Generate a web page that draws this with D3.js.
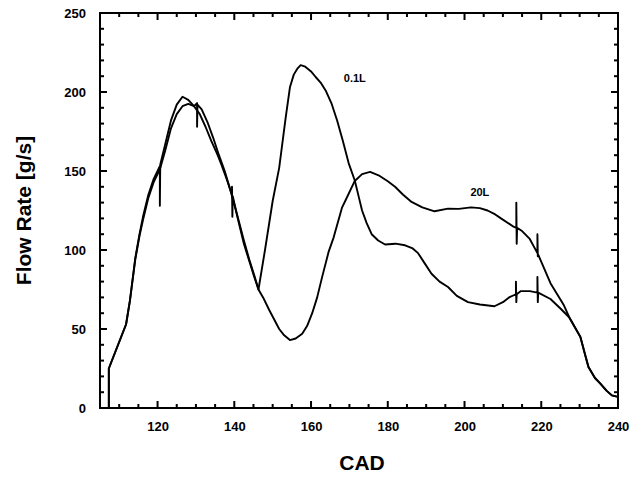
<!DOCTYPE html>
<html>
<head>
<meta charset="utf-8">
<script src="https://cdn.jsdelivr.net/npm/d3@7"></script>
<style>
  html, body { margin: 0; padding: 0; background: #fff; }
  svg { display: block; }
  text { font-family: "Liberation Sans", Arial, Helvetica, sans-serif; font-weight: bold; fill: #000; }
</style>
</head>
<body>
<svg id="chart" width="632" height="478"></svg>
<script>
// Flow rate vs crank angle for two volumes: [CAD, g/s]
const flow01L = [
  [107.3,0],[107.3,25],[111.8,53],[112.8,68],[114.2,95],[115.3,110],[116.2,121],[117.6,135],
  [119,145],[120.6,153],[120.6,128],[120.7,154],[122,167],[123.5,182],[125,192],[126.5,197],
  [128,195],[129.5,191],[131,186],[132.5,178],[134,169],[135.5,161],[136.5,155],[138,145],
  [139.4,135],[139.4,140],[139.5,121],[139.6,134],[141,119],[142.5,104],[143.9,93],[145.2,83],
  [146.3,75],[148,100],[150,131],[151.7,152],[153.4,184],[154.5,203],[155.5,211],[156.5,215],
  [157.3,217],[158.5,216],[160,213],[161.2,209.5],[162.5,206],[163.8,201],[165.3,193],
  [166.8,182],[168.3,169],[169.8,155],[171.4,144],[172.5,133],[173.3,125],[174.5,117],
  [175.8,110],[177.5,106],[179.3,103.5],[182,104],[184.5,103],[186.5,101],[187.9,98],
  [189.5,92],[191.4,85],[193.5,80],[195.7,76.6],[198,71],[200.9,67],[204,65.5],[207.8,64.4],
  [210,67],[211.6,70],[213.4,72],[213.4,80],[213.5,67],[213.6,72],[214.7,74],[217,74],[219,73],
  [219,83],[219.1,67],[219.2,73],[222.4,69],[225,63],[227.2,57.6],[230.2,45],[231.5,33],
  [232.3,26],[234,19],[235.4,15.4],[237,11],[238.4,8],[240,7],[240,0]
];

const flow20L = [
  [107.3,0],[107.3,25],[111.8,53],[112.8,68],[114.2,94],[115.3,109],[116.2,119],[117.6,133],
  [119,143],[120.6,151],[122,163],[123.5,177],[125,186],[126.5,191],[128,192.5],[129.5,191],
  [130.3,193],[130.3,178],[130.4,192],[131.5,189],[133,181],[134.5,171],[136,160],[137.5,150],
  [139.2,136],[141,120],[142.5,106],[143.9,94],[145.2,84],[146.3,75],[147.5,70],[149.1,62],
  [151.7,50],[153,46],[154.5,43],[156,44],[157.7,47],[159,52],[160.3,60],[161.6,70],[162.9,83],
  [164.6,99],[165.9,108],[168.1,127],[169,131.5],[171.4,143.7],[173.3,148],[175.4,149.4],
  [177.6,147.3],[180,143.5],[181.9,140],[184,135],[186.2,130.4],[189,127],[192.2,124.5],
  [195.7,126.2],[198.5,126],[201.7,127],[204,126.5],[206,125],[208,122.5],[209.5,120],
  [212.9,114.6],[213.5,114],[213.5,130],[213.6,104],[213.7,114],[215,112],[217,107],[219,98],
  [219,110],[219.1,96],[219.2,97],[222.4,79],[225.9,65],[227.2,58],[230.2,45],[231.5,33],
  [232.3,26],[234,19],[235.4,15.4],[237,11],[238.4,8],[240,7],[240,0]
];

// Curve labels placed in data coordinates
const curveLabels = [
  { text: "0.1L", cad: 171.4, flow: 208 },
  { text: "20L",  cad: 204,   flow: 136 }
];

const xTicks = [120, 140, 160, 180, 200, 220, 240];
const yTicks = [0, 50, 100, 150, 200, 250];
const xMinor = d3.range(110, 240, 5).filter(v => !xTicks.includes(v));
const yMinor = d3.range(10, 250, 10).filter(v => !yTicks.includes(v));

const svg = d3.select("#chart");
const plotLeft = 100, plotRight = 618, plotTop = 13, plotBottom = 408;

const x = d3.scaleLinear().domain([105, 240]).range([plotLeft, plotRight]);
const y = d3.scaleLinear().domain([0, 250]).range([plotBottom, plotTop]);

// Tick labels from d3 axes; tick marks are drawn separately, pointing inward
svg.append("g").attr("transform", `translate(0,${plotBottom})`)
  .call(d3.axisBottom(x).tickValues(xTicks).tickSize(0).tickPadding(14).tickFormat(d3.format("d")))
  .call(a => { a.select(".domain").remove(); a.selectAll("text").attr("font-size", 13); });
svg.append("g").attr("transform", `translate(${plotLeft},0)`)
  .call(d3.axisLeft(y).tickValues(yTicks).tickSize(0).tickPadding(14).tickFormat(d3.format("d")))
  .call(a => { a.select(".domain").remove(); a.selectAll("text").attr("font-size", 13); });

const majorLen = 7, minorLen = 4;
const tickG = svg.append("g").attr("stroke", "#000").attr("stroke-width", 2);
const xTickSet = xTicks.map(v => [v, majorLen]).concat(xMinor.map(v => [v, minorLen]));
const yTickSet = yTicks.map(v => [v, majorLen]).concat(yMinor.map(v => [v, minorLen]));

tickG.selectAll(".xb").data(xTickSet).join("line").attr("class", "xb")
  .attr("x1", d => x(d[0])).attr("x2", d => x(d[0]))
  .attr("y1", plotBottom).attr("y2", d => plotBottom - d[1]);
tickG.selectAll(".xt").data(xTickSet).join("line").attr("class", "xt")
  .attr("x1", d => x(d[0])).attr("x2", d => x(d[0]))
  .attr("y1", plotTop).attr("y2", d => plotTop + d[1]);
tickG.selectAll(".yl").data(yTickSet).join("line").attr("class", "yl")
  .attr("y1", d => y(d[0])).attr("y2", d => y(d[0]))
  .attr("x1", plotLeft).attr("x2", d => plotLeft + d[1]);
tickG.selectAll(".yr").data(yTickSet).join("line").attr("class", "yr")
  .attr("y1", d => y(d[0])).attr("y2", d => y(d[0]))
  .attr("x1", plotRight).attr("x2", d => plotRight - d[1]);

// Plot frame
svg.append("rect")
  .attr("x", plotLeft).attr("y", plotTop)
  .attr("width", plotRight - plotLeft).attr("height", plotBottom - plotTop)
  .attr("fill", "none").attr("stroke", "#000").attr("stroke-width", 2);

const line = d3.line().x(d => x(d[0])).y(d => y(d[1]));

[flow01L, flow20L].forEach(series => {
  svg.append("path")
    .datum(series)
    .attr("d", line)
    .attr("fill", "none")
    .attr("stroke", "#000")
    .attr("stroke-width", 1.9)
    .attr("stroke-linejoin", "round");
});

svg.selectAll(".curve-label")
  .data(curveLabels)
  .join("text")
  .attr("class", "curve-label")
  .attr("x", d => x(d.cad))
  .attr("y", d => y(d.flow))
  .attr("text-anchor", "middle")
  .attr("dominant-baseline", "middle")
  .attr("font-size", 11)
  .text(d => d.text);

// Axis titles
svg.append("text")
  .attr("x", (plotLeft + plotRight) / 2 + 3)
  .attr("y", 470)
  .attr("text-anchor", "middle")
  .attr("font-size", 21)
  .text("CAD");

svg.append("text")
  .attr("transform", `translate(31,${(plotTop + plotBottom) / 2}) rotate(-90)`)
  .attr("text-anchor", "middle")
  .attr("font-size", 21)
  .text("Flow Rate [g/s]");
</script>
</body>
</html>
